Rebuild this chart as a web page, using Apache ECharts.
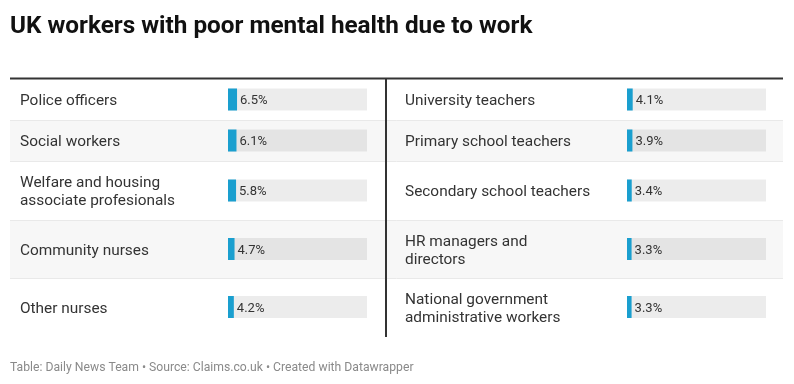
<!DOCTYPE html>
<html>
<head>
<meta charset="utf-8">
<script src="https://cdn.jsdelivr.net/npm/echarts@6/dist/echarts.min.js"></script>
<style>
html,body{margin:0;padding:0;background:#fff;}
#chart{width:794px;height:384px;}
</style>
</head>
<body>
<div id="chart"></div>
<script>
// ---- data ----
var titleText = 'UK workers with poor mental health due to work';
var footerText = 'Table: Daily News Team \u2022 Source: Claims.co.uk \u2022 Created with Datawrapper';
var leftLabels = ['Police officers', 'Social workers', 'Welfare and housing\nassociate profesionals', 'Community nurses', 'Other nurses'];
var leftValues = [6.5, 6.1, 5.8, 4.7, 4.2];
var rightLabels = ['University teachers', 'Primary school teachers', 'Secondary school teachers', 'HR managers and\ndirectors', 'National government\nadministrative workers'];
var rightValues = [4.1, 3.9, 3.4, 3.3, 3.3];
var scaleMax = 100;

(function () {
  // ---- layout ----
  var FONT = 'Roboto, "Noto Sans", sans-serif';
  var rowEdges = [79, 120, 161, 220, 278, 336];
  var cols = [
    {labels: leftLabels, values: leftValues, textX: 20, barLeft: 228, barWidth: 139},
    {labels: rightLabels, values: rightValues, textX: 405, barLeft: 627, barWidth: 139}
  ];

  var grids = [], xAxes = [], yAxes = [], series = [], graphics = [];

  for (var r = 0; r < 5; r++) {
    var y0 = rowEdges[r], y1 = rowEdges[r + 1];
    if (r % 2 === 1) {
      graphics.push({type: 'rect', z: -10, silent: true,
        shape: {x: 10, y: y0, width: 773, height: y1 - y0},
        style: {fill: '#f7f7f7'}});
    }
    if (r > 0) {
      graphics.push({type: 'line', z: -5, silent: true,
        shape: {x1: 10, y1: y0 + 0.5, x2: 783, y2: y0 + 0.5},
        style: {stroke: '#e9e9e9', lineWidth: 1}});
    }
  }
  graphics.push({type: 'line', z: 50, silent: true,
    shape: {x1: 10, y1: 78.5, x2: 783, y2: 78.5}, style: {stroke: '#333', lineWidth: 2}});
  graphics.push({type: 'line', z: 50, silent: true,
    shape: {x1: 386, y1: 79, x2: 386, y2: 337}, style: {stroke: '#333', lineWidth: 2}});
  graphics.push({type: 'text', left: 10, top: 15, z: 50,
    style: {text: titleText, font: 'bold 24.3px ' + FONT, fill: '#111'}});
  graphics.push({type: 'text', left: 10, top: 362, z: 50,
    style: {text: footerText, font: '12.2px ' + FONT, fill: '#8a8a8a'}});

  var idx = 0;
  cols.forEach(function (c) {
    for (var i = 0; i < 5; i++) {
      var center = (rowEdges[i] + rowEdges[i + 1]) / 2;
      graphics.push({type: 'text', x: c.textX, y: center + 2, z: 50, silent: true,
        style: {text: c.labels[i], font: '15.4px ' + FONT, fill: '#333',
          lineHeight: 18, align: 'left', verticalAlign: 'middle'}});
      grids.push({left: c.barLeft, width: c.barWidth, top: center - 11, height: 22});
      xAxes.push({type: 'value', gridIndex: idx, min: 0, max: scaleMax, show: false});
      yAxes.push({type: 'category', gridIndex: idx, data: [c.labels[i]], show: false});
      series.push({type: 'bar', xAxisIndex: idx, yAxisIndex: idx, data: [c.values[i]],
        barWidth: 22, silent: true,
        showBackground: true, backgroundStyle: {color: 'rgba(0,0,0,0.075)'},
        itemStyle: {color: '#1a9fcf'},
        label: {show: true, position: 'right', distance: 3, color: '#333',
          fontFamily: FONT, fontSize: 13, offset: [0, 1.5],
          formatter: function (p) { return p.value.toFixed(1) + '%'; }}});
      idx++;
    }
  });

  var chart = echarts.init(document.getElementById('chart'), null, {renderer: 'canvas'});
  chart.setOption({
    backgroundColor: '#fff',
    animation: false,
    grid: grids,
    xAxis: xAxes,
    yAxis: yAxes,
    series: series,
    graphic: {elements: graphics}
  });
})();
</script>
</body>
</html>
